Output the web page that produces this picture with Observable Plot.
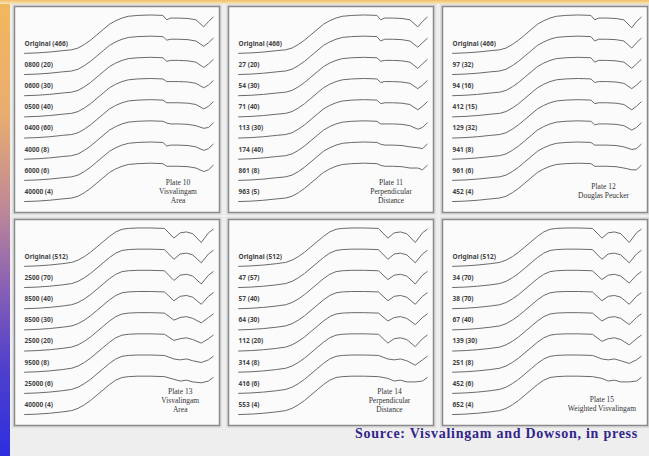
<!DOCTYPE html>
<html><head><meta charset="utf-8">
<script src="https://cdn.jsdelivr.net/npm/d3@7"></script>
<script src="https://cdn.jsdelivr.net/npm/@observablehq/plot@0.6"></script>
<style>
html,body{margin:0;padding:0;}
body{width:649px;height:456px;position:relative;overflow:hidden;background:#eeeeee;font-family:"Liberation Sans",Arial,sans-serif;}
#stripe{position:absolute;left:0;top:0;width:10px;height:456px;background:linear-gradient(to bottom,#f2b85c 0%,#e8ad70 25%,#c08a94 45%,#8c62b4 62%,#5040cc 80%,#2e2ee0 100%);}
#topbar{position:absolute;left:0;top:0;width:649px;height:4px;background:linear-gradient(to bottom,#f2c066,#f8e6bf);}
#chart{position:absolute;left:0;top:0;}
#source{position:absolute;right:11px;top:426px;font-family:"Liberation Serif","DejaVu Serif",serif;font-weight:bold;font-size:14px;letter-spacing:0.75px;color:#33258c;white-space:nowrap;}
</style></head>
<body>
<div id="stripe"></div>
<div id="topbar"></div>
<div id="chart"></div>
<div id="source">Source: Visvalingam and Dowson, in press</div>
<script>
// ---- data ----
const stepOffset = 24; // vertical offset between stacked profiles
// top-row profile (continuum, dips given separately)
const nmTop = [400,440,480,520,550,570,590,610,630,650,670,690,710,730,760,800,840,852,865,890,920,945,970,985,1000];
const valTop = [6,6.5,7.5,9,10,12,16,21,27,33,39,43,46,48,49,49.5,49,null,46,46,45.5,44,null,42,47];
const dip1IndexTop = 17, dip2IndexTop = 22;
// bottom-row profile
const nmBot = [400,440,480,520,550,570,590,610,630,650,670,690,710,730,760,800,845,875,895,915,935,962,985,1000];
const valBot = [6,6.5,7.5,9,10.5,13,17,22,28,34,40,45,48,49,49.5,49.5,49,null,44,45,43,null,44,48];
const dip1IndexBot = 17, dip2IndexBot = 21;

// dip minima per curve, per panel
const dip1P1 = [44,45,45,46,46,47,45,46];
const dip2P1 = [36,38,38,39,39,41,40,40];
const dip1P2 = [44,44,45,45,45,46,47,47];
const dip2P2 = [36,37,37,38,38,40,43,44];
const dip1P3 = [44,44,44,45,45,45,46,46];
const dip2P3 = [35,36,37,38,38,39,41,42];
const dip1P4 = [38,38,38,39,41,42,45,46];
const dip2P4 = [33,34,34,35,38,39,41,42];
const dip1P5 = [38,38,39,39,40,39,45,47];
const dip2P5 = [33,34,34,35,36,35,38,43];
const dip1P6 = [38,38,39,39,40,41,45,47];
const dip2P6 = [33,34,35,35,36,37,40,43];

const labelsP1 = ["Original (466)","0800 (20)","0600 (30)","0500 (40)","0400 (60)","4000 (8)","6000 (6)","40000 (4)"];
const labelsP2 = ["Original (466)","27 (20)","54 (30)","71 (40)","113 (30)","174 (40)","861 (8)","963 (5)"];
const labelsP3 = ["Original (466)","97 (32)","94 (16)","412 (15)","129 (32)","941 (8)","961 (6)","452 (4)"];
const labelsP4 = ["Original (512)","2500 (70)","8500 (40)","8500 (30)","2500 (20)","9500 (8)","25000 (6)","40000 (4)"];
const labelsP5 = ["Original (512)","47 (57)","57 (40)","64 (30)","112 (20)","314 (8)","416 (6)","553 (4)"];
const labelsP6 = ["Original (512)","34 (70)","38 (70)","67 (40)","139 (30)","251 (8)","452 (6)","652 (4)"];

const notesP = [
  "Plate 10\nVisvalingam\nArea",
  "Plate 11\nPerpendicular\nDistance",
  "Plate 12\nDouglas Peucker",
  "Plate 13\nVisvalingam\nArea",
  "Plate 14\nPerpendicular\nDistance",
  "Plate 15\nWeighted Visvalingam"
];
const noteX = [888, 885, 880, 895, 880, 875];
const noteY = [-150, -150, -150, -146, -146, -150];

// ---- build tables ----
const panels = [
  {dip1: dip1P1, dip2: dip2P1, labels: labelsP1},
  {dip1: dip1P2, dip2: dip2P2, labels: labelsP2},
  {dip1: dip1P3, dip2: dip2P3, labels: labelsP3},
  {dip1: dip1P4, dip2: dip2P4, labels: labelsP4},
  {dip1: dip1P5, dip2: dip2P5, labels: labelsP5},
  {dip1: dip1P6, dip2: dip2P6, labels: labelsP6}
];
const lines = [], labels = [], notes = [];
panels.forEach((p, pi) => {
  const col = pi % 3, row = Math.floor(pi / 3);
  const nm = row === 0 ? nmTop : nmBot;
  const base = row === 0 ? valTop : valBot;
  const i1 = row === 0 ? dip1IndexTop : dip1IndexBot;
  const i2 = row === 0 ? dip2IndexTop : dip2IndexBot;
  p.labels.forEach((lab, k) => {
    nm.forEach((w, i) => {
      let v = base[i];
      if (i === i1) v = p.dip1[k];
      if (i === i2) v = p.dip2[k];
      lines.push({col, row, key: pi + "-" + k, nm: w, v: v - k * stepOffset});
    });
    labels.push({col, row, nm: nm[0], v: base[0] + 11 - k * stepOffset, text: lab});
  });
  notes.push({col, row, nm: noteX[pi], v: noteY[pi], text: notesP[pi]});
});

const chart = Plot.plot({
  width: 649, height: 430,
  marginLeft: 13, marginRight: 1, marginTop: 6, marginBottom: 5,
  style: {background: "transparent", overflow: "visible"},
  fx: {domain: [0,1,2], paddingInner: 0.044, paddingOuter: 0, axis: null},
  fy: {domain: [0,1], paddingInner: 0.033, paddingOuter: 0, axis: null},
  x: {domain: [368, 1020], axis: null},
  y: {domain: [-174.4, 59.1], axis: null},
  marks: [
    Plot.frame({stroke: "#d4d4d4", strokeWidth: 1.2, inset: -1.5}),
    Plot.frame({fill: "#fbfbfb", stroke: "#8a8a8a", strokeWidth: 1.5}),
    Plot.line(lines, {x: "nm", y: "v", z: "key", fx: "col", fy: "row", stroke: "#6a6a6a", strokeWidth: 1}),
    Plot.text(labels, {x: "nm", y: "v", text: "text", fx: "col", fy: "row", textAnchor: "start", fontSize: 6.5, fontWeight: "bold", fill: "#444"}),
    Plot.text(notes, {x: "nm", y: "v", text: "text", fx: "col", fy: "row", textAnchor: "middle", lineAnchor: "middle", lineHeight: 1.2, fontSize: 7.5, fontFamily: "Liberation Serif, serif", fill: "#333"})
  ]
});
document.getElementById("chart").appendChild(chart);
</script>
</body></html>
